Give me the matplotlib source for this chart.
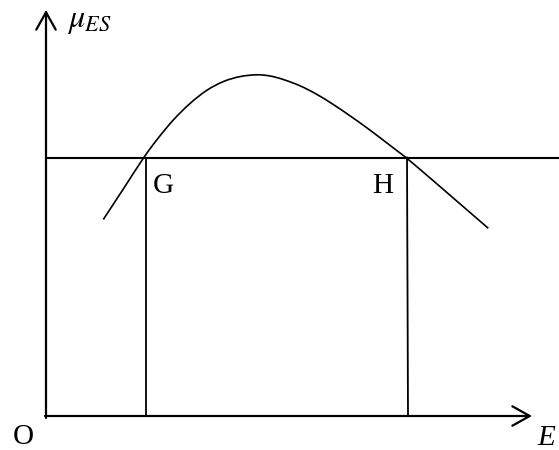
import matplotlib
matplotlib.use("Agg")
import matplotlib.pyplot as plt
from matplotlib.path import Path
from matplotlib.patches import PathPatch
import numpy as np

plt.rcParams['mathtext.fontset'] = 'stix'

# Schematic data (E, mu) with origin O at (0, 0)
curve_E = [57.3, 77.3, 97.3, 110.7, 127.3, 144.0, 160.7, 177.3, 194.0, 210.7, 224.0,
           237.3, 254.0, 270.7, 287.3, 304.0, 320.7, 337.3, 350.7, 360.7, 377.3, 404.0, 442.3]
curve_mu = [196.5, 227.0, 257.7, 276.0, 296.0, 312.5, 325.6, 334.4, 339.4, 341.2, 340.0,
            336.5, 330.2, 321.7, 311.5, 300.2, 288.3, 275.8, 265.5, 257.8, 243.8, 220.8, 187.7]
level_mu = 258.5
E_G = 100.0
E_H = 361.0
axis_E_max = 486.0
axis_mu_max = 406.0
labels = ["G", "H", "O", "E"]

fig = plt.figure(figsize=(5.59, 4.5), dpi=100)
ax = fig.add_axes([0, 0, 1, 1])
ax.set_xlim(-46, 513)
ax.set_ylim(-34, 416)
ax.axis('off')

axis_lw = 1.6
arrow_kw = dict(arrowstyle="->,head_length=12.5,head_width=7.0", lw=axis_lw,
                color='black', shrinkA=0, shrinkB=0, mutation_scale=1)
ax.annotate("", xy=(0, axis_mu_max), xytext=(0, -2), arrowprops=arrow_kw)
ax.annotate("", xy=(axis_E_max, 0), xytext=(-1, 0), arrowprops=arrow_kw)

ax.plot([0, 513], [level_mu, level_mu], color='black', lw=1.5, solid_capstyle='butt')
ax.plot([E_G, E_G], [0, level_mu], color='black', lw=1.3)
ax.plot([E_H, E_H + 1], [level_mu, 0], color='black', lw=1.3)

# smooth curve through the read points (Catmull-Rom rendered as cubic Bezier)
P = np.column_stack([curve_E, curve_mu])
verts = [P[0]]
codes = [Path.MOVETO]
n = len(P)
for i in range(n - 1):
    p0 = P[i - 1] if i > 0 else P[i]
    p1 = P[i]
    p2 = P[i + 1]
    p3 = P[i + 2] if i + 2 < n else P[i + 1]
    c1 = p1 + (p2 - p0) / 6.0
    c2 = p2 - (p3 - p1) / 6.0
    verts += [c1, c2, p2]
    codes += [Path.CURVE4] * 3
ax.add_patch(PathPatch(Path(verts, codes), fill=False, edgecolor='black', lw=1.2))

serif = 'Liberation Serif'
ax.text(21, 389, r'$\mu_{ES}$', fontsize=23, ha='left', va='baseline')
ax.text(107, 223, labels[0], fontsize=21, family=serif, ha='left', va='baseline')
ax.text(326, 223, labels[1], fontsize=21, family=serif, ha='left', va='baseline')
ax.text(-33, -28, labels[2], fontsize=21, family=serif, ha='left', va='baseline')
ax.text(491, -29, labels[3], fontsize=21, family=serif, style='italic', ha='left', va='baseline')

fig.savefig("out.png", dpi=100)
